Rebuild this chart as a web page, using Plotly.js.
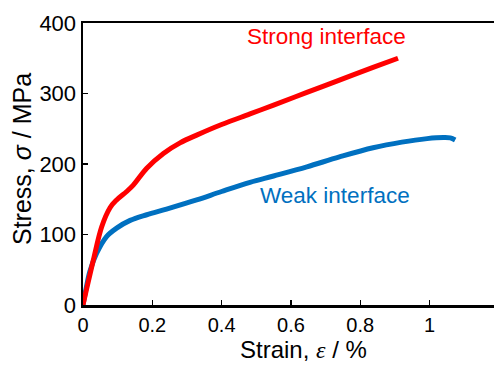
<!DOCTYPE html>
<html>
<head>
<meta charset="utf-8">
<script src="https://cdn.plot.ly/plotly-3.0.1.min.js"></script>
<style>html,body{margin:0;padding:0;background:#fff;}#chart{width:494px;height:365px;}</style>
</head>
<body>
<div id="chart"></div>
<script>
const strongStrain = [0, 0.01, 0.03, 0.054, 0.078, 0.097, 0.126, 0.145, 0.184, 0.232, 0.28, 0.328, 0.4, 0.482, 0.55, 0.646, 0.74, 0.837, 0.909];
const strongStress = [0, 22, 64, 111, 138, 149, 161, 170, 194, 215, 230, 241, 256, 271, 283.5, 301.5, 319, 337, 350];
const weakStrain = [0, 0.01, 0.02, 0.039, 0.068, 0.097, 0.136, 0.184, 0.241, 0.328, 0.4, 0.482, 0.55, 0.646, 0.74, 0.837, 0.92, 0.993, 1.04, 1.06, 1.074];
const weakStress = [0, 26, 48, 73, 97, 109, 120, 128, 136, 149, 161, 174, 183, 196, 210, 223, 231, 236, 237.5, 237, 234];
const xTicks = [0, 0.2, 0.4, 0.6, 0.8, 1];
const xTickText = ['0', '0.2', '0.4', '0.6', '0.8', '1'];
const yTicks = [0, 100, 200, 300, 400];
const yTickText = ['0', '100', '200', '300', '400'];

const data = [
  {x: weakStrain, y: weakStress, mode: 'lines', line: {color: '#0070C0', width: 5, shape: 'spline', smoothing: 1}, hoverinfo: 'none'},
  {x: strongStrain, y: strongStress, mode: 'lines', line: {color: '#FF0000', width: 5, shape: 'spline', smoothing: 1}, hoverinfo: 'none'}
];
const fam = 'Liberation Sans, Arial, sans-serif';
const layout = {
  width: 494, height: 365,
  margin: {l: 83, r: 0, t: 23, b: 60},
  paper_bgcolor: '#fff', plot_bgcolor: '#fff',
  showlegend: false,
  font: {family: fam, color: '#000'},
  xaxis: {
    range: [0, 1.186], showgrid: false, zeroline: false,
    showline: true, linecolor: '#000', linewidth: 2.5, mirror: true,
    ticks: 'inside', ticklen: 5, tickwidth: 1.2, tickcolor: '#000',
    tickvals: xTicks, ticktext: xTickText,
    tickfont: {family: fam, size: 20, color: '#000'}
  },
  yaxis: {
    range: [0, 400], showgrid: false, zeroline: false,
    showline: true, linecolor: '#000', linewidth: 2.5, mirror: false,
    ticks: 'inside', ticklen: 5, tickwidth: 1.2, tickcolor: '#000',
    tickvals: yTicks, ticktext: yTickText,
    tickfont: {family: fam, size: 22, color: '#000'}
  },
  annotations: [
    {x: 0.704, y: 381, xref: 'x', yref: 'y', text: 'Strong interface', showarrow: false, xanchor: 'center', yanchor: 'middle', font: {family: fam, size: 22.5, color: '#FF0000'}},
    {x: 0.727, y: 155, xref: 'x', yref: 'y', text: 'Weak interface', showarrow: false, xanchor: 'center', yanchor: 'middle', font: {family: fam, size: 22.5, color: '#0070C0'}},
    {x: 0, y: 0, xref: 'paper', yref: 'paper', text: 'Strain, <span style="font-family:Liberation Serif, Times New Roman, serif"><i>ε</i></span> / %', showarrow: false, xanchor: 'center', yanchor: 'middle', borderpad: 0, font: {family: fam, size: 24, color: '#000'}},
    {x: 0, y: 0, xref: 'paper', yref: 'paper', text: 'Stress, <i>σ</i> / MPa', textangle: -90, showarrow: false, xanchor: 'center', yanchor: 'middle', borderpad: 0, font: {family: fam, size: 25, color: '#000'}}
  ]
};
// convert pixel positions of the two axis titles to paper fractions
const pw = 494 - 83 - 0, ph = 365 - 23 - 60;
layout.annotations[2].x = (303 - 83) / pw; layout.annotations[2].y = (365 - 60 - 349) / ph;
layout.annotations[3].x = (22 - 83) / pw; layout.annotations[3].y = (365 - 60 - 159) / ph;
Plotly.newPlot('chart', data, layout, {staticPlot: true, displayModeBar: false});
</script>
</body>
</html>
